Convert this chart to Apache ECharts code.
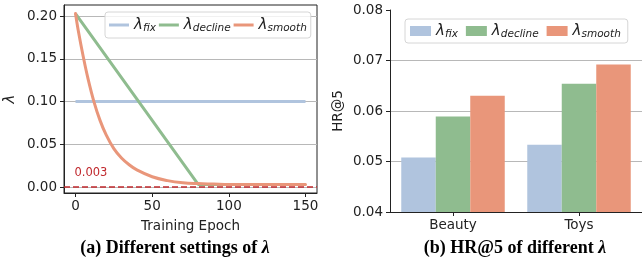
<!DOCTYPE html>
<html>
<head>
<meta charset="utf-8">
<script src="https://cdn.jsdelivr.net/npm/echarts@6/dist/echarts.min.js"></script>
<style>
html, body { margin: 0; padding: 0; background: #fff; }
#chart { width: 642px; height: 264px; }
</style>
</head>
<body>
<div id="chart"></div>
<script>
// (a) lambda schedules over training
const fixData = [[0, 0.1], [150, 0.1]]
const declineData = [[0, 0.203], [80, 0.003], [150, 0.003]]
const smoothEpochs = [0, 2, 5, 8, 12, 16, 20, 25, 30, 35, 40, 50, 60, 70, 80, 90, 100, 150]
const smoothValues = [0.203, 0.181, 0.153, 0.128, 0.100, 0.078, 0.061, 0.045, 0.034, 0.026, 0.020, 0.012, 0.0075, 0.005, 0.004, 0.0035, 0.003, 0.003]
const threshold = 0.003
const epochTicks = [0, 50, 100, 150]
const lambdaTicks = [0, 0.05, 0.1, 0.15, 0.2]

// (b) HR@5 per dataset
const datasets = ['Beauty', 'Toys']
const hrFix = [0.0508, 0.0533]
const hrDecline = [0.0589, 0.0654]
const hrSmooth = [0.0630, 0.0692]

const variants = ['fix', 'decline', 'smooth']
const colors = ['#b0c4de', '#8fbc8f', '#e9967a']

const sans = 'DejaVu Sans'
const serif = 'Liberation Serif'
const ink = '#222'

const smoothData = smoothEpochs.map((e, i) => [e, smoothValues[i]])

// legend text: lambda with italic subscript
const legendRich = {
  l: { fontFamily: sans, fontStyle: 'italic', fontSize: 15, color: ink, lineHeight: 18, verticalAlign: 'middle' },
  s: { fontFamily: sans, fontStyle: 'italic', fontSize: 10.5, color: ink, lineHeight: 18, verticalAlign: 'bottom', padding: [7, 0, 0, 0] }
}
function legendLabel(name) {
  const key = name.replace(' bar', '')
  return '{l|λ}{s|' + key + '}'
}

const titleRich = {
  t: { fontFamily: serif, fontWeight: 'bold', fontSize: 18, color: '#000' },
  g: { fontFamily: serif, fontWeight: 'bold', fontStyle: 'italic', fontSize: 18, color: '#000' }
}

const chart = echarts.init(document.getElementById('chart'))

const option = {
  animation: false,
  backgroundColor: '#fff',
  textStyle: { fontFamily: sans },
  grid: [
    { left: 64, top: 5, width: 253, height: 188, show: true, borderColor: ink, borderWidth: 1, backgroundColor: 'transparent' },
    { left: 390, top: 10, width: 258, height: 202 }
  ],
  legend: [
    {
      data: variants,
      left: 105, top: 12,
      icon: 'rect', itemWidth: 20, itemHeight: 3, itemGap: 3,
      padding: [4, 4, 4, 4],
      borderColor: '#d6d6d6', borderWidth: 1, borderRadius: 3,
      backgroundColor: 'rgba(255,255,255,0.8)',
      formatter: legendLabel,
      textStyle: { rich: legendRich }
    },
    {
      data: variants.map(v => v + ' bar'),
      left: 405, top: 19,
      icon: 'rect', itemWidth: 21, itemHeight: 10, itemGap: 8,
      padding: [3, 7, 3, 5],
      borderColor: '#d6d6d6', borderWidth: 1, borderRadius: 3,
      backgroundColor: 'rgba(255,255,255,0.8)',
      formatter: legendLabel,
      textStyle: { rich: legendRich }
    }
  ],
  xAxis: [
    {
      gridIndex: 0, type: 'value', min: -7.5, max: 157.5,
      axisLine: { show: true, onZero: false, lineStyle: { color: ink } },
      axisTick: { show: true, length: 4, customValues: epochTicks, lineStyle: { color: ink } },
      axisLabel: { customValues: epochTicks, margin: 6, fontSize: 13.5, color: ink, fontFamily: sans },
      splitLine: { show: false },
      name: 'Training Epoch', nameLocation: 'middle', nameGap: 26,
      nameTextStyle: { fontSize: 13.5, color: ink, fontFamily: sans }
    },
    {
      gridIndex: 1, type: 'category', data: datasets,
      axisLine: { show: true, onZero: false, lineStyle: { color: ink } },
      axisTick: { show: true, alignWithLabel: true, length: 4, lineStyle: { color: ink } },
      axisLabel: { margin: 6, fontSize: 13.5, color: ink, fontFamily: sans },
      splitLine: { show: false }
    }
  ],
  yAxis: [
    {
      gridIndex: 0, type: 'value', min: -0.007, max: 0.213,
      axisLine: { show: true, onZero: false, lineStyle: { color: ink } },
      axisTick: { show: true, length: 4, customValues: lambdaTicks, lineStyle: { color: ink } },
      axisLabel: { customValues: lambdaTicks, margin: 7, fontSize: 13.5, color: ink, fontFamily: sans, formatter: v => v.toFixed(2) },
      splitLine: { show: true, lineStyle: { color: '#b8b8b8', width: 1 } },
      name: 'λ', nameLocation: 'middle', nameGap: 46,
      nameTextStyle: { fontSize: 15, fontStyle: 'italic', color: ink, fontFamily: sans }
    },
    {
      gridIndex: 1, type: 'value', min: 0.04, max: 0.08, interval: 0.01,
      axisLine: { show: true, onZero: false, lineStyle: { color: ink } },
      axisTick: { show: true, length: 4, lineStyle: { color: ink } },
      axisLabel: { margin: 7, fontSize: 13.5, color: ink, fontFamily: sans, formatter: v => v.toFixed(2) },
      splitLine: { show: true, showMinLine: false, showMaxLine: false, lineStyle: { color: '#b8b8b8', width: 1 } },
      name: 'HR@5', nameLocation: 'middle', nameGap: 45,
      nameTextStyle: { fontSize: 13.5, color: ink, fontFamily: sans }
    }
  ],
  series: [
    {
      name: 'fix', type: 'line', xAxisIndex: 0, yAxisIndex: 0, z: 2,
      data: fixData, showSymbol: false, color: colors[0],
      lineStyle: { width: 3, color: colors[0] },
      markLine: {
        z: 1, silent: true, symbol: 'none',
        data: [{ yAxis: threshold }],
        lineStyle: { color: '#c0282d', width: 1.5, type: [6, 3] },
        label: { show: false }
      },
      markPoint: {
        silent: true, symbol: 'circle', symbolSize: 0,
        data: [{ coord: [0, threshold] }],
        label: { show: true, formatter: '0.003', position: 'right', offset: [-6, -11], color: '#c0282d', fontSize: 11.5, fontFamily: sans }
      }
    },
    {
      name: 'decline', type: 'line', xAxisIndex: 0, yAxisIndex: 0, z: 3,
      data: declineData, showSymbol: false, color: colors[1],
      lineStyle: { width: 3, color: colors[1] }
    },
    {
      name: 'smooth', type: 'line', xAxisIndex: 0, yAxisIndex: 0, z: 4,
      data: smoothData, showSymbol: false, color: colors[2],
      smooth: 0.4,
      lineStyle: { width: 3, color: colors[2], join: 'round', cap: 'round' }
    },
    {
      name: 'fix bar', type: 'bar', xAxisIndex: 1, yAxisIndex: 1,
      data: hrFix, barWidth: 34.5, barGap: '0%', color: colors[0]
    },
    {
      name: 'decline bar', type: 'bar', xAxisIndex: 1, yAxisIndex: 1,
      data: hrDecline, barWidth: 34.5, barGap: '0%', color: colors[1]
    },
    {
      name: 'smooth bar', type: 'bar', xAxisIndex: 1, yAxisIndex: 1,
      data: hrSmooth, barWidth: 34.5, barGap: '0%', color: colors[2]
    }
  ],
  graphic: [
    {
      type: 'text', x: 175, y: 248, silent: true,
      style: { text: '{t|(a) Different settings of }{g|λ}', rich: titleRich, align: 'center', verticalAlign: 'middle' }
    },
    {
      type: 'text', x: 515, y: 248, silent: true,
      style: { text: '{t|(b) HR@5 of different }{g|λ}', rich: titleRich, align: 'center', verticalAlign: 'middle' }
    }
  ]
}

chart.setOption(option)
</script>
</body>
</html>
